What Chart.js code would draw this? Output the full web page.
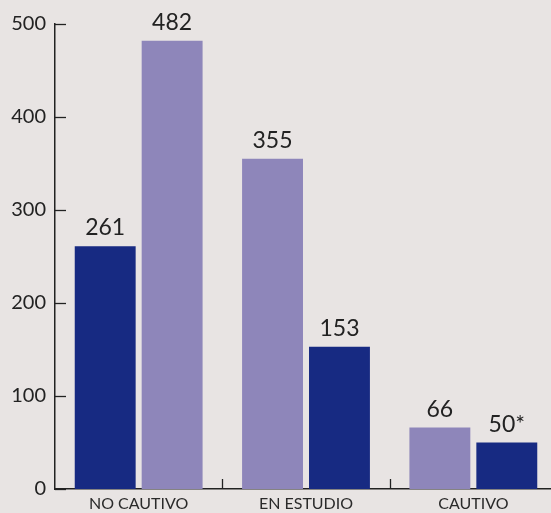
<!DOCTYPE html>
<html>
<head>
<meta charset="utf-8">
<script src="https://cdn.jsdelivr.net/npm/chart.js@4/dist/chart.umd.min.js"></script>
<style>
  html, body { margin: 0; padding: 0; background: #e8e4e3; overflow: hidden; }
  #wrap { width: 551px; height: 513px; overflow: hidden; }
</style>
</head>
<body>
<div id="wrap"><canvas id="chart" width="557" height="513"></canvas></div>
<script>
var categories   = ['NO CAUTIVO', 'EN ESTUDIO', 'CAUTIVO'];
var firstValues  = [261, 355, 66];
var secondValues = [482, 153, 50];
var firstLabels  = ['261', '355', '66'];
var secondLabels = ['482', '153', '50*'];
var yTicks       = [0, 100, 200, 300, 400, 500];

var NAVY = '#172a82';
var LILAC = '#8e86ba';
var INK = '#222222';

// first bar is navy only in the first group, the rest swap
var firstColors  = [NAVY, LILAC, LILAC];
var secondColors = [LILAC, NAVY, NAVY];

var valueText = {
  id: 'valueText',
  afterDatasetsDraw: function(chart) {
    var ctx = chart.ctx;
    var texts = [firstLabels, secondLabels];
    ctx.save();
    ctx.font = '23px Lato';
    ctx.fillStyle = INK;
    ctx.textAlign = 'center';
    ctx.textBaseline = 'alphabetic';
    chart.data.datasets.forEach(function(ds, d) {
      chart.getDatasetMeta(d).data.forEach(function(bar, i) {
        ctx.fillText(texts[d][i], bar.x, bar.y - 11);
      });
    });
    ctx.restore();
  }
};

// inward tick marks on both axes
var innerTicks = {
  id: 'innerTicks',
  afterDraw: function(chart) {
    var ctx = chart.ctx;
    var x = chart.scales.x, y = chart.scales.y;
    var area = chart.chartArea;
    ctx.save();
    ctx.strokeStyle = INK;
    ctx.lineWidth = 1.3;
    yTicks.forEach(function(v) {
      var py = Math.round(y.getPixelForValue(v)) + 0.5;
      ctx.beginPath();
      ctx.moveTo(area.left, py);
      ctx.lineTo(area.left + 11, py);
      ctx.stroke();
    });
    for (var i = 0; i < categories.length - 1; i++) {
      var px = Math.round((x.getPixelForValue(i) + x.getPixelForValue(i + 1)) / 2) + 0.5;
      ctx.beginPath();
      ctx.moveTo(px, area.bottom);
      ctx.lineTo(px, area.bottom - 10);
      ctx.stroke();
    }
    ctx.restore();
  }
};

new Chart(document.getElementById('chart'), {
  type: 'bar',
  data: {
    labels: categories,
    datasets: [
      { data: firstValues, backgroundColor: firstColors },
      { data: secondValues, backgroundColor: secondColors }
    ]
  },
  options: {
    responsive: false,
    animation: false,
    devicePixelRatio: 1,
    categoryPercentage: 0.8,
    barPercentage: 0.91,
    layout: { padding: { top: 24, left: 0, right: 0, bottom: 0 } },
    plugins: {
      legend: { display: false },
      tooltip: { enabled: false }
    },
    scales: {
      x: {
        grid: { display: false, drawTicks: false },
        border: { color: INK, width: 1.5 },
        ticks: { color: '#2a2a2a', font: { family: 'Lato', size: 16 }, padding: 5 },
        afterFit: function(s) { s.height = 24; }
      },
      y: {
        min: 0,
        max: 500,
        afterBuildTicks: function(s) { s.ticks = yTicks.map(function(v) { return { value: v }; }); },
        grid: { display: false, drawTicks: false },
        border: { color: INK, width: 1.5 },
        ticks: { color: INK, font: { family: 'Lato', size: 20 }, padding: 9 },
        afterFit: function(s) { s.width = 55; }
      }
    }
  },
  plugins: [valueText, innerTicks]
});
</script>
</body>
</html>
